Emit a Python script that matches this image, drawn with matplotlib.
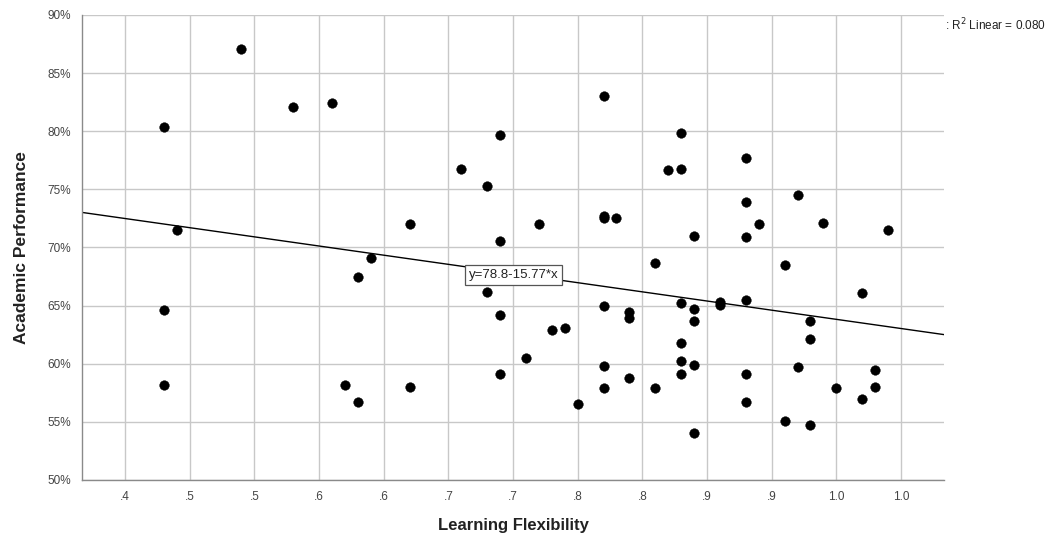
import matplotlib
matplotlib.use("Agg")
import matplotlib.pyplot as plt
import numpy as np

# Data
learning_flexibility = [
    0.43, 0.44, 0.43, 0.43, 0.49, 0.53, 0.56, 0.57, 0.58, 0.58,
    0.59, 0.62, 0.62, 0.66, 0.68, 0.68, 0.69, 0.69, 0.69, 0.69,
    0.71, 0.72, 0.73, 0.74, 0.75, 0.77, 0.77, 0.77, 0.77, 0.77,
    0.77, 0.78, 0.79, 0.79, 0.79, 0.81, 0.81, 0.82, 0.83, 0.83,
    0.83, 0.83, 0.83, 0.83, 0.84, 0.84, 0.84, 0.84, 0.84, 0.86,
    0.86, 0.88, 0.88, 0.88, 0.88, 0.88, 0.88, 0.89, 0.91, 0.91,
    0.92, 0.92, 0.93, 0.93, 0.93, 0.94, 0.95, 0.97, 0.97, 0.98,
    0.98, 0.99,
]
academic_performance = [
    80.4, 71.5, 64.65, 58.2, 87.05, 82.05, 82.4, 58.15, 56.7, 67.45,
    69.1, 58.0, 72.0, 76.75, 75.3, 66.2, 79.7, 70.6, 64.15, 59.15,
    60.5, 72.0, 62.9, 63.1, 56.5, 83.05, 72.75, 72.5, 64.95, 59.8,
    57.95, 72.55, 64.45, 63.95, 58.8, 68.65, 57.9, 76.65, 76.75, 79.85,
    65.2, 61.75, 60.25, 59.1, 70.95, 64.75, 63.65, 59.9, 54.05, 65.35,
    65.05, 77.7, 73.95, 70.9, 65.45, 59.1, 56.7, 72.05, 68.45, 55.1,
    74.55, 59.7, 63.65, 62.15, 54.7, 72.1, 57.95, 66.05, 57.0, 59.45,
    58.0, 71.5,
]
fit_intercept = 78.8
fit_slope = -15.77
r2_linear = 0.080

x_ticks = [0.40, 0.45, 0.50, 0.55, 0.60, 0.65, 0.70, 0.75, 0.80, 0.85, 0.90, 0.95, 1.00]
x_tick_labels = [".4", ".5", ".5", ".6", ".6", ".7", ".7", ".8", ".8", ".9", ".9", "1.0", "1.0"]
y_ticks = [50, 55, 60, 65, 70, 75, 80, 85, 90]
y_tick_labels = ["50%", "55%", "60%", "65%", "70%", "75%", "80%", "85%", "90%"]

plt.rcParams['font.family'] = ['Liberation Sans', 'DejaVu Sans']

fig = plt.figure(figsize=(10.63, 5.41), dpi=100)
ax = fig.add_axes([0.0771, 0.1128, 0.8110, 0.8595])

xmin, xmax = 0.3667, 1.0333
ymin, ymax = 50, 90
ax.set_xlim(xmin, xmax)
ax.set_ylim(ymin, ymax)

ax.set_xticks(x_ticks)
ax.set_xticklabels(x_tick_labels)
ax.set_yticks(y_ticks)
ax.set_yticklabels(y_tick_labels)
ax.tick_params(axis='both', length=0, labelsize=8.5, colors='#444444', pad=8)

ax.grid(True, color='#c8c8c8', linewidth=1.0)
ax.set_axisbelow(True)
for s in ['top', 'right']:
    ax.spines[s].set_visible(False)
for s in ['left', 'bottom']:
    ax.spines[s].set_color('#8a8a8a')
    ax.spines[s].set_linewidth(1.0)

ax.scatter(learning_flexibility, academic_performance, s=48, color='black',
           edgecolors='black', linewidths=0.3, zorder=3)

xs = np.array([xmin, xmax])
ax.plot(xs, fit_intercept + fit_slope * xs, color='black', linewidth=1.0, zorder=2)

ax.text(0.7005, 67.6, f"y={fit_intercept}-{abs(fit_slope)}*x", fontsize=9.5,
        ha='center', va='center', color='#222222', zorder=4,
        bbox=dict(boxstyle='square,pad=0.3', facecolor='white', edgecolor='#555555', linewidth=0.9))

fig.text(0.889, 0.953, f": R$^2$ Linear = {r2_linear:.3f}", fontsize=8.5, ha='left', va='center',
         color='#222222')

ax.set_xlabel("Learning Flexibility", fontsize=12, fontweight='bold', labelpad=11, color='#222222')
ax.set_ylabel("Academic Performance", fontsize=12.5, fontweight='bold', labelpad=13, color='#222222')

fig.savefig("out.png", dpi=100)
